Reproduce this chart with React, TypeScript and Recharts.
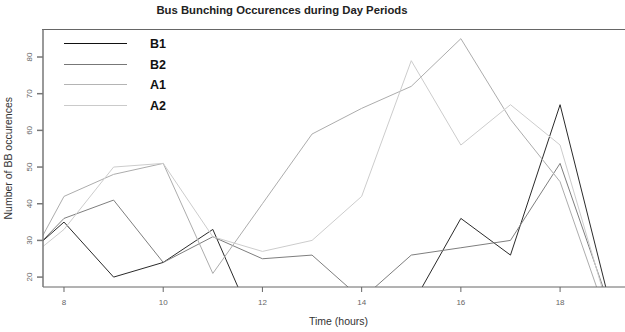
import { LineChart, Line, XAxis, YAxis } from "recharts";

const hours = [7, 8, 9, 10, 11, 12, 13, 14, 15, 16, 17, 18, 19];
const b1 = [23, 35, 20, 24, 33, 2, 5, 8, 12, 36, 26, 67, 13];
const b2 = [22, 36, 41, 24, 31, 25, 26, 14, 26, 28, 30, 51, 12];
const a1 = [17, 42, 48, 51, 21, 40, 59, 66, 72, 85, 63, 46, 7];
const a2 = [22, 33, 50, 51, 31, 27, 30, 42, 79, 56, 67, 56, 10];

const xTicks = [8, 10, 12, 14, 16, 18];
const yTicks = [20, 30, 40, 50, 60, 70, 80];

const series = [
  { key: "B1", values: b1, color: "#2a2a2a", legend: "#111111" },
  { key: "B2", values: b2, color: "#7e7e7e", legend: "#777777" },
  { key: "A1", values: a1, color: "#acacac", legend: "#b4b4b4" },
  { key: "A2", values: a2, color: "#cccccc", legend: "#cacaca" },
];

const data = hours.map((h, i) => {
  const row: Record<string, number> = { hour: h };
  series.forEach(s => (row[s.key] = s.values[i]));
  return row;
});

const FONT = "'Liberation Sans', Arial, sans-serif";

const XTick = ({ x, y, payload }: any) => (
  <text x={x} y={y} dy={13} textAnchor="middle" fontSize={8} fill="#666" fontFamily={FONT}>
    {payload.value}
  </text>
);

const YTick = ({ x, y, payload }: any) => (
  <text
    x={x - 5}
    y={y}
    textAnchor="middle"
    fontSize={8}
    fill="#666"
    fontFamily={FONT}
    transform={`rotate(-90, ${x - 5}, ${y})`}
  >
    {payload.value}
  </text>
);

export default function App() {
  return (
    <div
      style={{
        position: "absolute",
        left: 0,
        top: 0,
        width: 625,
        height: 332,
        overflow: "hidden",
        background: "#fff",
      }}
    >
      <div
        style={{
          position: "absolute",
          left: 0,
          top: 4,
          width: 564,
          textAlign: "center",
          fontFamily: FONT,
          fontWeight: "bold",
          fontSize: 11.3,
          color: "#222",
        }}
      >
        Bus Bunching Occurences during Day Periods
      </div>
      {/* top frame line */}
      <div
        style={{
          position: "absolute",
          left: 42,
          top: 28.5,
          width: 600,
          borderTop: "1.5px solid #666",
        }}
      />
      <div style={{ position: "absolute", left: 64, top: 34, fontFamily: FONT, zIndex: 2 }}>
        {series.map(s => (
          <div key={s.key} style={{ position: "relative", height: 20.5, width: 120 }}>
            <div
              style={{
                position: "absolute",
                left: 0,
                top: 9,
                width: 63,
                borderTop: `1.5px solid ${s.legend}`,
              }}
            />
            <div
              style={{
                position: "absolute",
                left: 86,
                top: 3,
                fontSize: 12.5,
                fontWeight: "bold",
                color: "#111",
                lineHeight: "14px",
              }}
            >
              {s.key}
            </div>
          </div>
        ))}
      </div>
      <LineChart width={640} height={332} data={data} margin={{ top: 29.5, right: 6, bottom: 0, left: 0 }}>
        <XAxis
          dataKey="hour"
          type="number"
          domain={[7.577, 19.49]}
          allowDataOverflow
          ticks={xTicks}
          tick={<XTick />}
          tickSize={5}
          tickMargin={0}
          height={45}
          stroke="#666"
          tickLine={{ stroke: "#666" }}
          label={{
            value: "Time (hours)",
            position: "insideBottom",
            offset: 7,
            style: { fontSize: 10.5, fill: "#333", fontFamily: FONT },
          }}
        />
        <YAxis
          type="number"
          domain={[17.3, 87.5]}
          allowDataOverflow
          ticks={yTicks}
          tick={<YTick />}
          tickSize={6}
          tickMargin={0}
          width={43}
          stroke="#777"
          strokeWidth={1.5}
          label={{
            value: "Number of BB occurences",
            angle: -90,
            position: "insideLeft",
            offset: 8,
            style: { fontSize: 10.5, fill: "#333", fontFamily: FONT, textAnchor: "middle" },
          }}
        />
        {series.map(s => (
          <Line
            key={s.key}
            dataKey={s.key}
            name={s.key}
            stroke={s.color}
            strokeWidth={1}
            dot={false}
            activeDot={false}
            type="linear"
            isAnimationActive={false}
          />
        ))}
      </LineChart>
    </div>
  );
}
